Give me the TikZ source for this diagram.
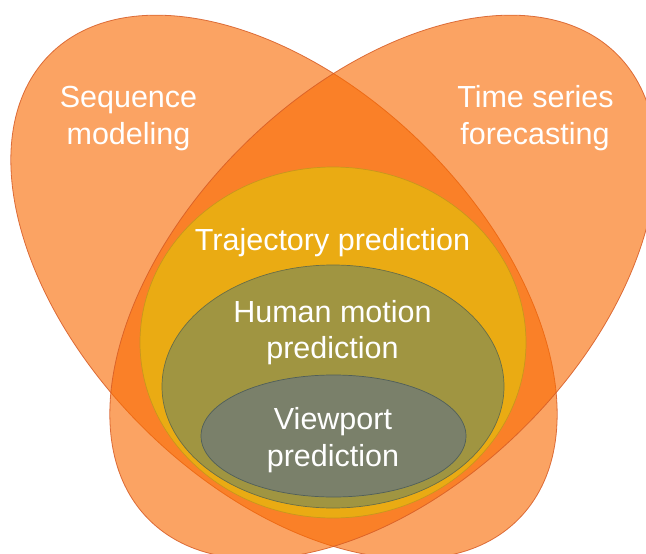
\documentclass[tikz,border=0pt]{standalone}
\usepackage{fontspec}
\setmainfont{Liberation Sans}
\definecolor{orangeC}{RGB}{249,107,3}
\definecolor{orangeLine}{RGB}{214,92,38}
\definecolor{trajFill}{RGB}{234,171,19}
\definecolor{trajLine}{RGB}{200,150,30}
\definecolor{humanFill}{RGB}{160,149,65}
\definecolor{humanLine}{RGB}{105,110,70}
\definecolor{viewFill}{RGB}{122,128,106}
\definecolor{viewLine}{RGB}{80,95,90}
\tikzset{
  bigset/.style={fill=orangeC, fill opacity=0.62, draw=orangeLine, draw opacity=0.85, line width=0.8pt},
  lbl/.style={text=white, font=\fontsize{30.5}{37}\selectfont, inner sep=0pt, anchor=base}
}
\begin{document}
\begin{tikzpicture}[x=1pt,y=1pt]
\useasboundingbox (0,0) rectangle (646,-554);
\clip (0,0) rectangle (646,-554);
% outer sets
\path[bigset, rotate around={-44.7:(284,-287)}] (284,-287) ellipse [x radius=330pt, y radius=199pt];
\path[bigset, rotate around={44.7:(383,-287)}] (383,-287) ellipse [x radius=330pt, y radius=199pt];
% nested sets
\path[fill=trajFill, draw=trajLine, line width=0.7pt] (333,-342.5) ellipse [x radius=193pt, y radius=175.5pt];
\path[fill=humanFill, draw=humanLine, line width=0.7pt] (333,-386.5) ellipse [x radius=171pt, y radius=121.5pt];
\path[fill=viewFill, draw=viewLine, line width=0.7pt] (333.5,-436) ellipse [x radius=132.5pt, y radius=61pt];
% labels
\node[lbl] (seqA) at (128.5,-107) {Sequence};
\node[lbl] (seqB) at (128.5,-144) {modeling};
\node[lbl] (tsA) at (535.5,-107) {Time series};
\node[lbl] (tsB) at (535,-144) {forecasting};
\node[lbl] (traj) at (332.5,-250) {Trajectory prediction};
\node[lbl] (humA) at (332.5,-322) {Human motion};
\node[lbl] (humB) at (332.5,-358) {prediction};
\node[lbl] (viewA) at (333,-429) {Viewport};
\node[lbl] (viewB) at (333,-466) {prediction};
\end{tikzpicture}
\end{document}
